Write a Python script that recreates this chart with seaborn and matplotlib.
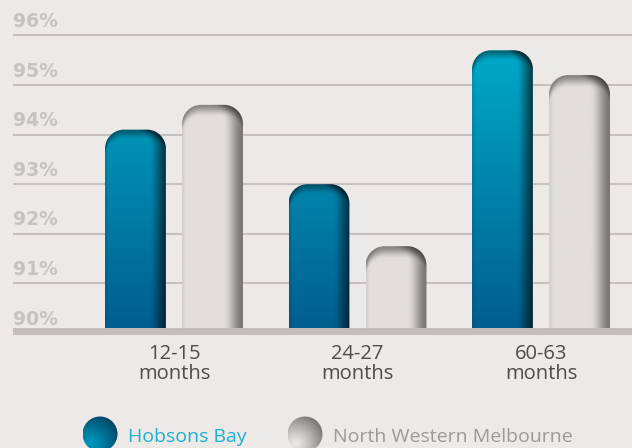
import numpy as np
import pandas as pd
import matplotlib
matplotlib.use("Agg")
import matplotlib.pyplot as plt
from matplotlib.path import Path
from matplotlib.patches import PathPatch, Circle
import seaborn as sns

# ---------------- data ----------------
categories = ["12-15\nmonths", "24-27\nmonths", "60-63\nmonths"]
series = ["Hobsons Bay", "North Western Melbourne"]
hobsons_bay = [94.1, 93.0, 95.7]
north_western = [94.6, 91.75, 95.2]
y_ticks = [90, 91, 92, 93, 94, 95, 96]
y_tick_labels = ["90%", "91%", "92%", "93%", "94%", "95%", "96%"]

df = pd.DataFrame({
    "group": categories * 2,
    "series": [series[0]] * 3 + [series[1]] * 3,
    "value": hobsons_bay + north_western,
})

# ---------------- styling ----------------
BG = (237 / 255, 233 / 255, 230 / 255)
GRID = "#c6c1bf"
BASE = "#c3bebc"
YLAB = "#c6c2c0"
TICK = "#4e4c4b"
HB_TXT = "#1bb1d2"
NW_TXT = "#9d9998"

sns.set_theme(style="white")
plt.rcParams["font.family"] = ["Open Sans", "DejaVu Sans"]

W_PX, H_PX = 632, 448
fig = plt.figure(figsize=(W_PX / 100, H_PX / 100), dpi=100, facecolor=BG)

ax_l, ax_r, ax_t, ax_b = 13, 632, 0, 340  # pixel box of the plot area
ax = fig.add_axes([ax_l / W_PX, 1 - ax_b / H_PX, (ax_r - ax_l) / W_PX, (ax_b - ax_t) / H_PX])
ax.set_facecolor(BG)

sns.barplot(data=df, x="group", y="value", hue="series", order=categories,
            hue_order=series, width=0.84, gap=0.21, errorbar=None,
            legend=False, ax=ax)

# scale: px per unit
px_x = 183.5
px_y = 49.6
x0_lim = (ax_l - 174) / px_x
x1_lim = (ax_r - 174) / px_x
y0_lim = 90 - (ax_b - 333) / px_y
y1_lim = 90 + (333 - ax_t) / px_y
ax.set_xlim(x0_lim, x1_lim)
ax.set_ylim(y0_lim, y1_lim)
for s in ax.spines.values():
    s.set_visible(False)

# gridlines and baseline
for v in y_ticks[1:]:
    ax.axhline(v, color=GRID, lw=1.5, zorder=1)
ax.axhline(90 + 2.5 / px_y, color=BASE, lw=5.0, zorder=5)

# y labels sitting above gridlines
ax.set_yticks([])
for v, lab in zip(y_ticks, y_tick_labels):
    ax.text(x0_lim, v + 8.5 / px_y, lab, ha="left", va="baseline",
            fontsize=13.5, fontweight="bold", color=YLAB,
            family=["DejaVu Sans"], zorder=2)

ax.set_xlabel("")
ax.set_ylabel("")
ax.tick_params(axis="x", length=0, pad=3, labelsize=14.5, labelcolor=TICK)
for t in ax.get_xticklabels():
    t.set_fontweight("normal")
    t.set_linespacing(1.0)


def smooth(t):
    t = np.clip(t, 0, 1)
    return t * t * (3 - 2 * t)


def bar_rgba(kind, wpx, hpx, top_val, r):
    sc = 3
    nx, ny = int(wpx * sc), max(int(hpx * sc), 2)
    px = (np.arange(nx) + 0.5) / sc
    py = (np.arange(ny) + 0.5) / sc
    PX, PY = np.meshgrid(px, py)
    left_b = np.zeros_like(PY)
    right_b = np.full_like(PY, wpx)
    top_b = np.zeros_like(PX)
    m = PY < r
    dy = r - PY[m]
    off = r - np.sqrt(np.clip(r * r - dy * dy, 0, None))
    left_b[m] = off
    right_b[m] = wpx - off
    mxl = PX < r
    dxl = r - PX[mxl]
    top_b[mxl] = r - np.sqrt(np.clip(r * r - dxl * dxl, 0, None))
    mxr = PX > wpx - r
    dxr = PX[mxr] - (wpx - r)
    top_b[mxr] = r - np.sqrt(np.clip(r * r - dxr * dxr, 0, None))
    dl = PX - left_b
    dr = right_b - PX
    dt = PY - top_b
    vals = top_val - PY / px_y
    if kind == 0:
        t = np.clip((vals - 90) / 6, 0, 1)[..., None]
        bot = np.array([0, 92, 142]) / 255
        topc = np.array([0, 174, 203]) / 255
        base = bot + (topc - bot) * t
        f = (1 - 0.58 * smooth(1 - dr / 17)) * (1 - 0.12 * smooth(1 - dl / 4)) \
            * (1 - 0.4 * smooth(1 - dt / 11))
    else:
        base = np.ones(PX.shape + (3,)) * (np.array([226, 222, 220]) / 255)
        f = (1 - 0.47 * smooth(1 - dr / 20)) * (1 - 0.07 * smooth(1 - dl / 5)) \
            * (1 - 0.4 * smooth(1 - dt / 13))
    rgb = base * f[..., None]
    return np.dstack([np.clip(rgb, 0, 1), np.ones(PX.shape)])


R = 19
for p in ax.patches:
    xs, w, h = p.get_x(), p.get_width(), p.get_height()
    if w <= 0:
        continue
    cx = xs + w / 2
    kind = 0 if cx < round(cx) else 1
    p.set_visible(False)
    top = h
    yb = 90.0
    wpx = w * px_x
    hpx = (top - yb) * px_y
    rx, ry = R / px_x, R / px_y
    k = 0.5523
    x1 = xs + w
    verts = [(xs, yb), (xs, top - ry),
             (xs, top - ry + k * ry), (xs + rx - k * rx, top), (xs + rx, top),
             (x1 - rx, top),
             (x1 - rx + k * rx, top), (x1, top - ry + k * ry), (x1, top - ry),
             (x1, yb), (xs, yb)]
    codes = [Path.MOVETO, Path.LINETO,
             Path.CURVE4, Path.CURVE4, Path.CURVE4,
             Path.LINETO,
             Path.CURVE4, Path.CURVE4, Path.CURVE4,
             Path.LINETO, Path.CLOSEPOLY]
    clip = PathPatch(Path(verts, codes), transform=ax.transData, facecolor="none",
                     edgecolor="none")
    img = bar_rgba(kind, wpx, hpx, top, R)
    im = ax.imshow(img, extent=[xs, x1, yb, top], origin="upper", aspect="auto",
                   interpolation="bilinear", zorder=3)
    im.set_clip_path(clip)

ax.set_xlim(x0_lim, x1_lim)
ax.set_ylim(y0_lim, y1_lim)

# ---------------- legend ----------------
lax = fig.add_axes([0, 0, 1, 1], facecolor="none")
lax.set_xlim(0, W_PX)
lax.set_ylim(H_PX, 0)
lax.axis("off")


def sphere(kind, n=120):
    u = np.linspace(-1, 1, n)
    X, Y = np.meshgrid(u, u)
    d = np.sqrt((X + 0.55) ** 2 + (Y - 0.55) ** 2) / 2.0
    d = np.clip(d, 0, 1)[..., None]
    if kind == 0:
        light = np.array([0, 150, 190]) / 255
        dark = np.array([0, 55, 80]) / 255
    else:
        light = np.array([236, 233, 231]) / 255
        dark = np.array([100, 96, 94]) / 255
    rgb = light + (dark - light) * d ** 1.2
    return np.dstack([rgb, np.ones(X.shape)])


leg_y = 434
leg_r = 17.5
for kind, (cxp, tx) in enumerate([(100, 128), (305, 333)]):
    im = lax.imshow(sphere(kind), extent=[cxp - leg_r, cxp + leg_r, leg_y + leg_r, leg_y - leg_r],
                    interpolation="bilinear", zorder=2)
    c = Circle((cxp, leg_y), leg_r, transform=lax.transData)
    im.set_clip_path(c)
    lax.text(tx, 442, series[kind], fontsize=14.0, fontweight="normal",
             color=HB_TXT if kind == 0 else NW_TXT, ha="left", va="baseline")
lax.set_xlim(0, W_PX)
lax.set_ylim(H_PX, 0)

fig.savefig("out.png", dpi=100, facecolor=BG)
